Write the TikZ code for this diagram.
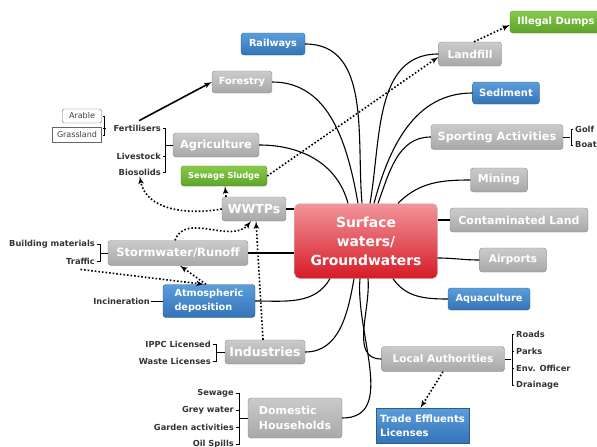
\documentclass[tikz,border=0pt]{standalone}
\usepackage{fontspec}
\setmainfont{DejaVu Sans}
\usetikzlibrary{arrows}
\definecolor{hubtop}{HTML}{F3959B}
\definecolor{hubmid}{HTML}{E5232E}
\definecolor{hubbot}{HTML}{D51B26}
\definecolor{hubedge}{HTML}{C9D0D6}
\definecolor{greytop}{HTML}{CBCBCB}
\definecolor{greybot}{HTML}{A8A8A8}
\definecolor{greyedge}{HTML}{858585}
\definecolor{bluetop}{HTML}{5C9EDB}
\definecolor{bluebot}{HTML}{3373B7}
\definecolor{blueedge}{HTML}{2C5C8E}
\definecolor{greentop}{HTML}{88CA4B}
\definecolor{greenbot}{HTML}{5DA42A}
\definecolor{greenedge}{HTML}{4C8A22}
\definecolor{leafgrey}{HTML}{333333}
\tikzstyle{hub} = [rectangle, rounded corners=5pt, draw=hubedge, top color=hubtop, middle color=hubmid, bottom color=hubbot, text=white, align=center, font=\bfseries\fontsize{13.9}{19}\selectfont, minimum width=143pt, minimum height=75pt]
\tikzstyle{greytopic} = [rectangle, rounded corners=3pt, draw=greyedge, top color=greytop, bottom color=greybot, text=white, inner sep=1pt, font=\bfseries\fontsize{11.3}{15.5}\selectfont]
\tikzstyle{bluetopic} = [greytopic, draw=blueedge, top color=bluetop, bottom color=bluebot, font=\bfseries\fontsize{9.7}{14.5}\selectfont]
\tikzstyle{greentopic} = [greytopic, draw=greenedge, top color=greentop, bottom color=greenbot, font=\bfseries\fontsize{10}{12}\selectfont]
\tikzstyle{leaf} = [inner sep=1pt, text=leafgrey, font=\bfseries\fontsize{8.3}{9}\selectfont]
\tikzstyle{plainbox} = [rectangle, rounded corners=2pt, draw=black!60, fill=white, text=black!75, inner sep=1pt, font=\fontsize{8}{9}\selectfont]
\tikzstyle{branch} = [draw, line width=1.1pt]
\tikzstyle{bracket} = [draw, line width=0.5pt]
\tikzstyle{link} = [draw, dotted, line width=1.6pt, -latex']
\tikzstyle{mainarrow} = [draw, line width=1.6pt, -latex']

\begin{document}
\begin{tikzpicture}[x=1pt, y=-1pt]
	\useasboundingbox (0,0) rectangle (597,447);
	% central topic
	\node [hub] (hub) at (366,241) {Surface\\waters/\\Groundwaters};
	% right side
	\node [greytopic, minimum width=63pt, minimum height=24pt, font=\bfseries\fontsize{10.8}{12}\selectfont] (landfill) at (470,54) {Landfill};
	\node [greentopic, minimum width=92pt, minimum height=22pt] (dumps) at (556,22) {Illegal Dumps};
	\node [bluetopic, minimum width=67pt, minimum height=22pt, font=\bfseries\fontsize{10}{12}\selectfont] (sediment) at (506,93) {Sediment};
	\node [greytopic, minimum width=132pt, minimum height=25pt] (sport) at (497,137) {Sporting Activities};
	\node [leaf, anchor=west] (golf) at (574,129) {Golf};
	\node [leaf, anchor=west] (boat) at (574,145) {Boat};
	\node [greytopic, minimum width=57pt, minimum height=24pt, font=\bfseries\fontsize{11}{12}\selectfont] (mining) at (499,180) {Mining};
	\node [greytopic, minimum width=138pt, minimum height=24pt, font=\bfseries\fontsize{11}{12}\selectfont] (contam) at (519,220) {Contaminated Land};
	\node [greytopic, minimum width=67pt, minimum height=24pt, font=\bfseries\fontsize{10.5}{12}\selectfont] (airports) at (513,260) {Airports};
	\node [bluetopic, minimum width=82pt, minimum height=22pt] (aqua) at (489,299) {Aquaculture};
	\node [greytopic, minimum width=123pt, minimum height=25pt, font=\bfseries\fontsize{10.5}{12}\selectfont] (local) at (443,359) {Local Authorities};
	\node [leaf, anchor=west] (roads) at (515,334) {Roads};
	\node [leaf, anchor=west] (parks) at (515,351) {Parks};
	\node [leaf, anchor=west] (envoff) at (515,368) {Env. Officer};
	\node [leaf, anchor=west] (drain) at (515,385) {Drainage};
	\node [bluetopic, rounded corners=0pt, align=left, minimum width=93pt, minimum height=35pt, font=\bfseries\fontsize{10}{14}\selectfont] (trade) at (422.5,425.5) {Trade Effluents\\Licenses};
	% left side
	\node [bluetopic, minimum width=64pt, minimum height=22pt] (railways) at (273,44) {Railways};
	\node [greytopic, minimum width=60pt, minimum height=22pt, font=\bfseries\fontsize{9.8}{12}\selectfont] (forestry) at (242,82) {Forestry};
	\node [greytopic, minimum width=86pt, minimum height=24pt] (agri) at (216,145) {Agriculture};
	\node [leaf, anchor=east] (fert) at (162,128) {Fertilisers};
	\node [leaf, anchor=east] (live) at (162,156) {Livestock};
	\node [leaf, anchor=east] (bios) at (162,172) {Biosolids};
	\node [plainbox, minimum width=39pt, minimum height=14pt] (arable) at (82,116) {Arable};
	\node [plainbox, rounded corners=0pt, minimum width=49pt, minimum height=15pt] (grass) at (77,135) {Grassland};
	\node [greentopic, minimum width=86pt, minimum height=20pt, font=\bfseries\fontsize{8.3}{10}\selectfont] (sludge) at (224,176) {Sewage Sludge};
	\node [greytopic, minimum width=64pt, minimum height=24pt, font=\bfseries\fontsize{12.5}{14}\selectfont] (wwtp) at (254,209) {WWTPs};
	\node [greytopic, minimum width=140pt, minimum height=25pt, font=\bfseries\fontsize{11.5}{14}\selectfont] (storm) at (178,253) {Stormwater/Runoff};
	\node [leaf, anchor=east] (bldg) at (96,244) {Building materials};
	\node [leaf, anchor=east] (traffic) at (96,261) {Traffic};
	\node [bluetopic, align=left, minimum width=92pt, minimum height=33pt] (atmos) at (209,301) {Atmospheric\\deposition};
	\node [leaf, anchor=east] (incin) at (151,301) {Incineration};
	\node [greytopic, minimum width=80pt, minimum height=24pt, font=\bfseries\fontsize{12.5}{14}\selectfont] (indus) at (265,352) {Industries};
	\node [leaf, anchor=east] (ippc) at (212,344) {IPPC Licensed};
	\node [leaf, anchor=east] (waste) at (212,361) {Waste Licenses};
	\node [greytopic, align=left, minimum width=94pt, minimum height=40pt, font=\bfseries\fontsize{11}{15.5}\selectfont] (domestic) at (295,418) {Domestic\\Households};
	\node [leaf, anchor=east] (sewage) at (235,393) {Sewage};
	\node [leaf, anchor=east] (grey) at (235,410) {Grey water};
	\node [leaf, anchor=east] (garden) at (235,427) {Garden activities};
	\node [leaf, anchor=east] (oil) at (235,444) {Oil Spills};
	% branches to the central topic
	\path [branch] (agri.east) to[out=0,in=105] ([xshift=-18pt]hub.north);
	\path [branch] (forestry.east) to[out=0,in=100] ([xshift=-8pt]hub.north);
	\path [branch] (railways.east) to[out=0,in=95] ([xshift=-4pt]hub.north);
	\path [branch] (landfill.west) to[out=180,in=80] ([xshift=4pt]hub.north);
	\path [branch] (sediment.west) to[out=180,in=75] ([xshift=8pt]hub.north);
	\path [branch] (sport.west) to[out=180,in=70] ([xshift=12pt]hub.north);
	\path [branch] (mining.west) to[out=180,in=45] ([xshift=32pt]hub.north);
	\path [branch] (contam.west -| hub.east) -- (contam.west);
	\path [branch] ([yshift=-17pt]hub.east) to[out=0,in=180] (airports.west);
	\path [branch] ([xshift=27pt]hub.south) to[out=-55,in=180] (aqua.west);
	\path [branch] ([xshift=2pt]hub.south) to[out=-85,in=180] (local.west);
	\path [branch] (domestic.east) to[out=0,in=-95] ([xshift=-6pt]hub.south);
	\path [branch] (indus.east) to[out=0,in=-100] ([xshift=-12pt]hub.south);
	\path [branch] (atmos.east) to[out=0,in=-120] ([xshift=-36pt]hub.south);
	\path [branch] (storm.east) -- (storm.east -| hub.west);
	\path [branch] (wwtp.east) -- (wwtp.east -| hub.west);
	% sub-topic brackets
	\draw [bracket] ([xshift=1pt]fert.east) -- ++(2,0) |- ([xshift=1pt]bios.east);
	\draw [bracket] ([xshift=1pt]live.east) -- ++(2,0);
	\draw [bracket] (agri.west) -- ++(-8,0);
	\draw [bracket] ([xshift=1pt]arable.east) -- ++(2,0) |- ([xshift=1pt]grass.east);
	\draw [bracket] ([xshift=-9pt]fert.west) -- ([xshift=-6pt]fert.west);
	\draw [bracket] ([xshift=-1pt]golf.west) -- ++(-2,0) |- ([xshift=-1pt]boat.west);
	\draw [bracket] (sport.east) -- ++(7,0);
	\draw [bracket] ([xshift=-1pt]roads.west) -- ++(-2,0) |- ([xshift=-1pt]drain.west);
	\draw [bracket] ([xshift=-1pt]parks.west) -- ++(-2,0);
	\draw [bracket] ([xshift=-1pt]envoff.west) -- ++(-2,0);
	\draw [bracket] (local.east) -- ++(6,0);
	\draw [bracket] ([xshift=1pt]bldg.east) -- ++(3,0) |- ([xshift=1pt]traffic.east);
	\draw [bracket] (storm.west) -- ++(-8,0);
	\draw [bracket] (incin.east) -- (atmos.west);
	\draw [bracket] ([xshift=1pt]ippc.east) -- ++(3,0) |- ([xshift=1pt]waste.east);
	\draw [bracket] (indus.west) -- ++(-9,0);
	\draw [bracket] ([xshift=1pt]sewage.east) -- ++(3,0) |- ([xshift=1pt]oil.east);
	\draw [bracket] ([xshift=1pt]grey.east) -- ++(3,0);
	\draw [bracket] ([xshift=1pt]garden.east) -- ++(3,0);
	\draw [bracket] (domestic.west) -- ++(-9,0);
	% relations
	\path [mainarrow] ([xshift=2pt,yshift=3pt]fert.north) -- (forestry.west);
	\path [link] (sludge.east) -- ([yshift=-3pt]landfill.west);
	\path [link] ([xshift=4pt]landfill.north) -- ([yshift=-3pt]dumps.west);
	\path [link] (wwtp.west) to[out=190,in=-80] (bios.south);
	\path [link] ([xshift=-28pt]wwtp.north) -- ([xshift=1pt]sludge.south);
	\path [link] ([xshift=-3pt]storm.north) to[out=70,in=-130] ([xshift=-3pt]wwtp.south);
	\path [link] ([xshift=-2pt]indus.north) -- ([xshift=2pt]wwtp.south);
	\path [link] ([yshift=-4pt]traffic.south) -- ([xshift=-5pt]atmos.north);
	\path [link] ([xshift=-3pt]atmos.north) -- ([xshift=2pt]storm.south);
	\path [link] (local.south) -- ([xshift=-2pt]trade.north);
\end{tikzpicture}
\end{document}
